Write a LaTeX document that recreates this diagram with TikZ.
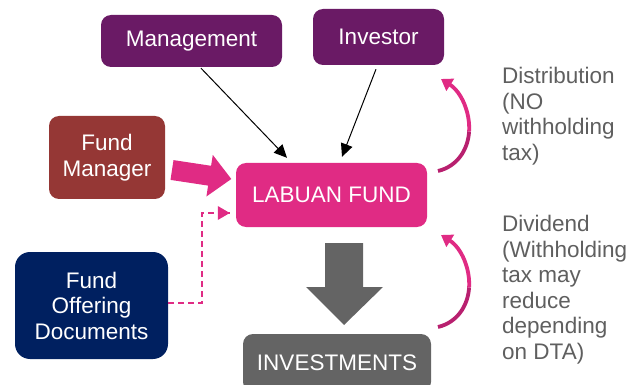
\documentclass[tikz,border=0pt]{standalone}
\usepackage{fontspec}
\setmainfont{Liberation Sans}
\usetikzlibrary{arrows.meta,calc}
\definecolor{purp}{HTML}{6A1A65}
\definecolor{fmred}{HTML}{953735}
\definecolor{pinkc}{HTML}{E02B84}
\definecolor{darkpink}{HTML}{B8206F}
\definecolor{navy}{HTML}{002060}
\definecolor{greyc}{HTML}{646464}
\definecolor{txtgrey}{HTML}{5F5F5F}
\begin{document}
\begin{tikzpicture}[x=1pt,y=-1pt,
  box/.style={rounded corners=10pt, text=white, align=center, inner sep=0pt,
    font=\fontsize{22.5}{25.5}\selectfont},
  thinarrow/.style={black, line width=1pt, -{Triangle[length=13pt,width=12pt]}},
  curvebody/.style={line width=3.8pt, darkpink},
  curvearrow/.style={line width=3.8pt, pinkc, -{Triangle[length=11pt,width=14pt]}},
  note/.style={anchor=north west, align=left, inner sep=0pt, text=txtgrey,
    font=\fontsize{22.5}{25.5}\selectfont}]
\useasboundingbox (0,0) rectangle (643,385);
% boxes
\node[box, fill=purp, minimum width=181pt, minimum height=52pt] (mgmt) at (191.5,41) {Management};
\node[box, fill=purp, minimum width=131pt, minimum height=56pt] (inv) at (378.5,37) {Investor};
\node[box, fill=fmred, minimum width=116pt, minimum height=83pt] (fm) at (107,157.5) {Fund\\Manager};
\node[box, fill=pinkc, minimum width=191pt, minimum height=64pt] (fund) at (331.5,195) {LABUAN FUND};
\node[box, rounded corners=15pt, fill=navy, minimum width=153pt, minimum height=107pt] (fod) at (91.5,305.5) {Fund\\Offering\\Documents};
\node[box, fill=greyc, minimum width=188pt, minimum height=58pt] (invest) at (337,363) {INVESTMENTS};
% thin arrows
\draw[thinarrow] ($(mgmt.south)+(9.5,1)$) -- ($(fund.north)+(-44.5,-5)$);
\draw[thinarrow] ($(inv.south)+(-2.5,4)$) -- ($(fund.north)+(10.5,-6)$);
% big pink arrow fund manager -> fund
\fill[pinkc] (173.5,160.1) -- (211.1,165.8) -- (212.8,154.9) -- (231.3,179) -- (206.4,196.5) -- (208.1,185.6) -- (170.5,179.9) -- cycle;
% dashed connector
\coordinate (bend1) at (202,303);
\coordinate (bend2) at (202,213);
\draw[pinkc, line width=1.5pt, dash pattern=on 6pt off 4pt] (fod.east |- bend1) -- (bend1) -- (bend2) -- ($(fund.west |- bend2)+(-6,0)$);
\fill[pinkc] ($(fund.west |- bend2)+(-6,0)$) -- ($(fund.west |- bend2)+(-18,-7)$) -- ($(fund.west |- bend2)+(-18,7)$) -- cycle;
% big grey arrow fund -> investments
\fill[greyc] (325,243) -- (363,243) -- (363,287) -- (383,287) -- (344,325) -- (306,287) -- (325,287) -- cycle;
% curved arrows
\coordinate (c1s) at (438,171);
\coordinate (c1m) at (469.1,131.4);
\coordinate (c1e) at (441,79);
\coordinate (c2s) at (438,327);
\coordinate (c2m) at (469.1,287.4);
\coordinate (c2e) at (441,235);
\draw[curvebody] (c1s) .. controls (457,166.5) and (468,150) .. (c1m);
\draw[curvearrow] (c1m) .. controls (470.25,112.75) and (461.5,92) .. (c1e);
\draw[curvebody] (c2s) .. controls (457,322.5) and (468,306) .. (c2m);
\draw[curvearrow] (c2m) .. controls (470.25,268.75) and (461.5,248) .. (c2e);
% notes
\node[note] (n1) at (502,67) {Distribution\\(NO\\withholding\\tax)};
\node[note] (n2) at (502,215) {Dividend\\(Withholding\\tax may\\reduce\\depending\\on DTA)};
\end{tikzpicture}
\end{document}
